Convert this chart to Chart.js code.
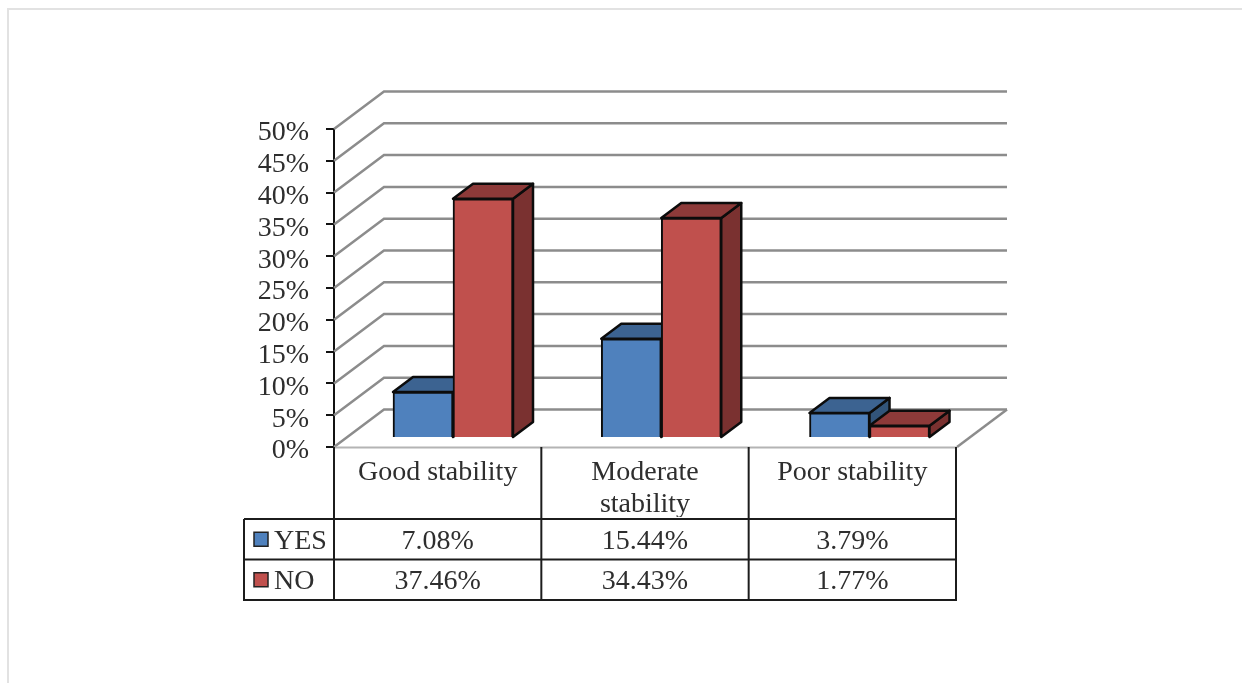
<!DOCTYPE html>
<html>
<head>
<meta charset="utf-8">
<script src="https://cdn.jsdelivr.net/npm/chart.js@4"></script>
<style>
  html, body { margin: 0; padding: 0; background: #fff; overflow: hidden; }
  #frame { position: absolute; left: 7px; top: 8px; right: 0; bottom: 0; border-top: 2px solid #e2e2e2; border-left: 2px solid #e2e2e2; }
  canvas { position: absolute; left: 0; top: 0; }
</style>
</head>
<body>
<div id="frame"></div>
<canvas id="chart" width="1242" height="683"></canvas>
<script>
const categories = ['Good stability', ['Moderate', 'stability'], 'Poor stability'];
const seriesNames = ['YES', 'NO'];
const yesValues = [7.08, 15.44, 3.79];
const noValues = [37.46, 34.43, 1.77];
const yTicks = [0, 5, 10, 15, 20, 25, 30, 35, 40, 45, 50];

const FONT = '28px "Liberation Serif"';
const TEXT = '#2e2e2e';
const LINE = '#1c1c1c';
const GRID = '#8c8c8c';
const FRONT = ['#4f81bd', '#c0504d'];
const TOP = ['#3c6391', '#8d3a39'];
const SIDE = ['#325479', '#7a3130'];

// plot box on the page, and how far the walls and bars sit back from it
const PLOT = { left: 334, right: 956, top: 129, bottom: 447 };
const WALL = { dx: 50, dy: 37.5 };
const BAR_DEPTH = { dx: 20, dy: 15 };
const PX_PER_PCT = (PLOT.bottom - PLOT.top) / 50;
const BAR_LIFT = 10 / PX_PER_PCT;      // bars stand 10px above the front floor edge
const BAR_STEP = 208.25;               // px between bar group centres
const BAR_FIRST = 453;                 // px of first bar group centre

const TABLE = { left: 244, rows: [519, 559.5, 600] };

function poly(ctx, pts, fill) {
  ctx.beginPath();
  pts.forEach((p, i) => i ? ctx.lineTo(p[0], p[1]) : ctx.moveTo(p[0], p[1]));
  ctx.closePath();
  ctx.fillStyle = fill;
  ctx.fill();
  ctx.lineWidth = 2.5;
  ctx.lineJoin = 'round';
  ctx.strokeStyle = '#0c0c0c';
  ctx.stroke();
}

function line(ctx, pts, color, width) {
  ctx.beginPath();
  pts.forEach((p, i) => i ? ctx.lineTo(p[0], p[1]) : ctx.moveTo(p[0], p[1]));
  ctx.strokeStyle = color;
  ctx.lineWidth = width;
  ctx.stroke();
}

const wallsAndBoxes = {
  id: 'wallsAndBoxes',
  beforeDatasetsDraw(chart) {
    const ctx = chart.ctx, y = chart.scales.y, x = chart.scales.x;
    ctx.save();
    // back wall lines and left wall diagonals
    y.ticks.forEach(t => {
      const py = y.getPixelForValue(t.value);
      line(ctx, [[x.left, py], [x.left + WALL.dx, py - WALL.dy], [x.right + WALL.dx + 1, py - WALL.dy]], GRID, 2.5);
    });
    // floor
    line(ctx, [[x.right + WALL.dx + 1, y.bottom - WALL.dy], [x.right + 1, y.bottom]], GRID, 2.5);
    line(ctx, [[x.left, y.bottom + 0.5], [x.right + 1, y.bottom + 0.5]], '#b4b4b4', 2);
    // top and side of each box, YES first so NO covers it
    chart.data.datasets.forEach((ds, d) => {
      chart.getDatasetMeta(d).data.forEach(bar => {
        const l = bar.x - bar.width / 2, r = bar.x + bar.width / 2;
        const dx = BAR_DEPTH.dx, dy = BAR_DEPTH.dy;
        poly(ctx, [[r, bar.y], [r + dx, bar.y - dy], [r + dx, bar.base - dy], [r, bar.base]], SIDE[d]);
        poly(ctx, [[l, bar.y], [l + dx, bar.y - dy], [r + dx, bar.y - dy], [r, bar.y]], TOP[d]);
      });
    });
    ctx.restore();
  }
};

const dataTable = {
  id: 'dataTable',
  afterDraw(chart) {
    const ctx = chart.ctx, x = chart.scales.x, y = chart.scales.y;
    const half = (x.getPixelForTick(1) - x.getPixelForTick(0)) / 2;
    const edges = [x.left];
    categories.forEach((c, i) => edges.push(x.getPixelForTick(i) + half));
    ctx.save();
    edges.forEach(e => line(ctx, [[e, y.bottom], [e, TABLE.rows[2] + 1]], LINE, 2));
    line(ctx, [[TABLE.left, TABLE.rows[0]], [TABLE.left, TABLE.rows[2] + 1]], LINE, 2);
    TABLE.rows.forEach(r => line(ctx, [[TABLE.left, r], [edges[3] + 1, r]], LINE, 2));

    ctx.font = FONT;
    ctx.fillStyle = TEXT;
    ctx.textBaseline = 'middle';
    [yesValues, noValues].forEach((vals, s) => {
      const top = TABLE.rows[s], mid = (top + TABLE.rows[s + 1]) / 2;
      ctx.fillStyle = FRONT[s];
      ctx.fillRect(254, mid - 7, 14, 14);
      ctx.strokeStyle = '#222';
      ctx.lineWidth = 1.5;
      ctx.strokeRect(254, mid - 7, 14, 14);
      ctx.fillStyle = TEXT;
      ctx.textAlign = 'left';
      ctx.fillText(seriesNames[s], 274, mid + 2);
      ctx.textAlign = 'center';
      vals.forEach((v, i) => ctx.fillText(v.toFixed(2) + '%', x.getPixelForTick(i), mid + 2));
    });
    ctx.restore();
  }
};

new Chart(document.getElementById('chart'), {
  type: 'bar',
  plugins: [wallsAndBoxes, dataTable],
  data: {
    labels: categories,
    datasets: [
      { label: seriesNames[0], data: yesValues.map((v, i) => ({ x: i, y: v })), backgroundColor: FRONT[0] },
      { label: seriesNames[1], data: noValues.map((v, i) => ({ x: i, y: v })), backgroundColor: FRONT[1] }
    ].map(d => Object.assign(d, {
      xAxisID: 'barX', yAxisID: 'barY', borderColor: '#0c0c0c', borderWidth: 2, barThickness: 60
    }))
  },
  options: {
    responsive: false,
    animation: false,
    devicePixelRatio: 1,
    layout: { padding: { left: 0, top: PLOT.top, right: 1242 - PLOT.right, bottom: 683 - PLOT.bottom - 70 } },
    plugins: { legend: { display: false }, tooltip: { enabled: false } },
    scales: {
      x: {
        type: 'category',
        labels: categories,
        grid: { display: false, drawTicks: false },
        border: { display: false },
        ticks: { color: TEXT, font: { family: 'Liberation Serif', size: 28, lineHeight: 1.143 }, padding: 10, maxRotation: 0, autoSkip: false },
        afterFit(s) { s.height = 70; }
      },
      y: {
        min: 0, max: 50,
        afterBuildTicks(s) { s.ticks = yTicks.map(v => ({ value: v })); },
        grid: { drawOnChartArea: false, color: '#111', lineWidth: 2, tickLength: 8 },
        border: { color: '#111', width: 2 },
        ticks: { color: TEXT, font: { family: 'Liberation Serif', size: 28 }, padding: 17, autoSkip: false, callback: v => v + '%' },
        afterFit(s) { s.width = PLOT.left; },
        afterUpdate(s) {
          // labels sit a touch lower than canvas middle baseline puts them
          const drawLabels = s.drawLabels;
          s.drawLabels = function (area) {
            s.ctx.save();
            s.ctx.translate(0, 2);
            drawLabels.call(s, area);
            s.ctx.restore();
          };
        }
      },
      // hidden scales for the plane the boxes stand in, set back from the front of the plot
      barX: {
        type: 'linear', display: false, offset: false,
        min: (PLOT.left - BAR_FIRST) / BAR_STEP,
        max: (PLOT.right - BAR_FIRST) / BAR_STEP
      },
      barY: {
        type: 'linear', display: false,
        min: -BAR_LIFT, max: 50 - BAR_LIFT
      }
    }
  }
});
</script>
</body>
</html>
